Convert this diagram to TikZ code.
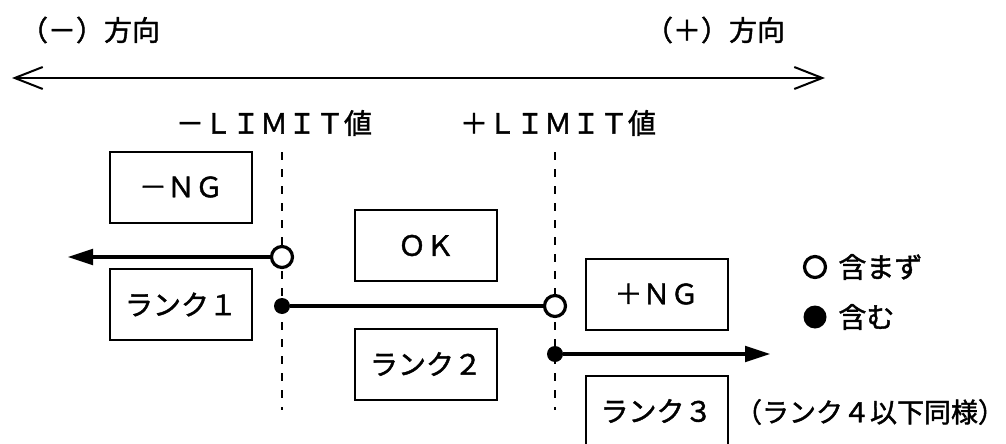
\documentclass[tikz,border=0pt]{standalone}
\usepackage{fontspec}
\setmainfont{Noto Sans CJK JP}[RawFeature={embolden=1.5}]
\usepackage{tikz}
\usetikzlibrary{arrows.meta}

\tikzset{
    lbl/.style={inner sep=0pt},
    rankbox/.style={draw, line width=1pt, minimum width=71pt, minimum height=35.5pt, inner sep=0pt},
    opendot/.style={circle, draw, fill=white, line width=1.6pt, minimum size=10.5pt, inner sep=0pt},
    fulldot/.style={circle, fill=black, minimum size=8pt, inner sep=0pt},
    bigdot/.style={circle, fill=black, minimum size=11.5pt, inner sep=0pt},
    limitline/.style={line width=0.75pt, dash pattern=on 4pt off 4.5pt},
    rangeline/.style={line width=2.4pt},
}

\begin{document}
\begin{tikzpicture}[x=0.5pt,y=-0.5pt,font=\fontsize{14pt}{16pt}\selectfont]
    \useasboundingbox (0,0) rectangle (1006,444);

    % Direction:
    % One thin line with open tips on both ends, the labels sit above it
    \node[lbl] (minusDir) at (90,30)  {（－）方向};
    \node[lbl] (plusDir)  at (715,30) {（＋）方向};
    \coordinate (dirL) at (12,78);
    \coordinate (dirR) at (825,78);
    \draw[line width=1pt, {Straight Barb[length=14pt,width=11pt]}-{Straight Barb[length=14pt,width=11pt]}] (dirL) -- (dirR);

    % Limits:
    % Dashed vertical lines with their names on top
    \node[lbl] (loLabel) at (274,123) {－ＬＩＭＩＴ値};
    \node[lbl] (hiLabel) at (558,123) {＋ＬＩＭＩＴ値};
    \foreach \x/\n in {282/lo,555/hi}{%
        \coordinate (\n Top) at (\x,152);
        \coordinate (\n Bot) at (\x,410);
        \draw[limitline] (\n Top) -- (\n Bot);
    }

    % Judgement and rank boxes
    \node[rankbox] (ngMinus) at (181,187)    {－ＮＧ};
    \node[rankbox] (ok)      at (426,245.5)  {ＯＫ};
    \node[rankbox] (rank1)   at (181,304.5)  {ランク１};
    \node[rankbox] (rank2)   at (426,364)    {ランク２};
    \node[rankbox] (ngPlus)  at (656.5,294)  {＋ＮＧ};
    \node[rankbox] (rank3)   at (656.5,411)  {ランク３};

    % Ranges:
    % Open circle = limit not included, filled dot = limit included
    \node[opendot] (r1End) at (282,257) {};
    \coordinate (r1Tip) at (67,257);
    \draw[rangeline, -{Triangle[length=13pt,width=7.5pt]}] (r1End) -- (r1Tip);

    \node[fulldot] (r2Start) at (282,306) {};
    \node[opendot] (r2End)   at (555,306) {};
    \draw[rangeline] (r2Start) -- (r2End);

    \node[fulldot] (r3Start) at (555,354) {};
    \coordinate (r3Tip) at (771,354);
    \draw[rangeline, -{Triangle[length=13pt,width=7.5pt]}] (r3Start) -- (r3Tip);

    % Legend
    \node[opendot] (keyOpen) at (815,267) {};
    \node[lbl, anchor=west] (keyOpenText) at (838,267) {含まず};
    \node[bigdot] (keyFull) at (815,317) {};
    \node[lbl, anchor=west] (keyFullText) at (838,317) {含む};

    \node[lbl, font=\fontsize{13.5pt}{16pt}\selectfont] (note) at (870,412) {（ランク４以下同様）};
\end{tikzpicture}
\end{document}
